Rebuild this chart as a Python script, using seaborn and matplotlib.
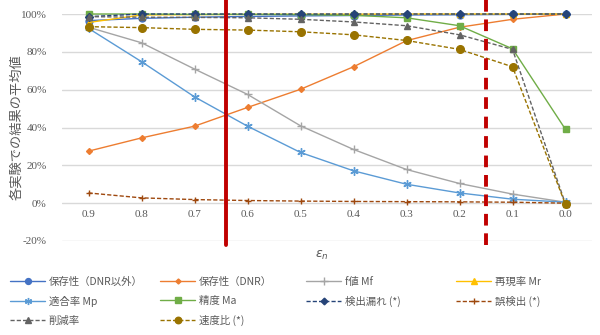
import matplotlib
matplotlib.use("Agg")
import matplotlib.pyplot as plt
import seaborn as sns
import pandas as pd
import numpy as np
from matplotlib.lines import Line2D

# ---- data ----
eps_labels = ["0.9", "0.8", "0.7", "0.6", "0.5", "0.4", "0.3", "0.2", "0.1", "0.0"]
conserv_other = [96.5, 97.7, 98.3, 98.7, 99.0, 99.2, 99.5, 99.6, 99.8, 100.0]
conserv_dnr = [27.5, 34.5, 40.7, 50.6, 60.2, 72.1, 85.9, 93.0, 97.2, 100.0]
f_mf = [93.0, 84.8, 70.9, 57.5, 40.9, 28.4, 17.8, 10.4, 4.8, 0.5]
recall_mr = [95.5, 99.5, 99.7, 99.8, 99.9, 99.9, 100.0, 100.0, 100.0, 100.0]
precision_mp = [92.4, 74.8, 56.2, 40.7, 26.8, 17.1, 10.0, 5.4, 2.1, 0.5]
accuracy_ma = [100.0, 100.0, 99.8, 99.8, 99.7, 99.3, 98.0, 93.8, 81.6, 39.0]
miss_det = [98.6, 100.0, 100.0, 100.0, 100.0, 100.0, 100.0, 100.0, 100.0, 100.0]
false_det = [5.4, 2.8, 1.9, 1.4, 1.1, 0.9, 0.8, 0.7, 0.5, 0.0]
reduction = [98.6, 98.3, 98.2, 98.0, 97.2, 95.8, 93.8, 89.0, 81.3, -0.5]
speed = [93.3, 92.8, 91.9, 91.5, 90.6, 89.0, 86.0, 81.3, 72.1, -0.7]
solid_threshold = 2.6   # category position of solid red line
dashed_threshold = 7.5  # category position of dashed red line

series_names = ["保存性（DNR以外）", "保存性（DNR）", "f値 Mf", "再現率 Mr", "適合率 Mp",
                "精度 Ma", "検出漏れ (*)", "誤検出 (*)", "削減率", "速度比 (*)"]
series_values = [conserv_other, conserv_dnr, f_mf, recall_mr, precision_mp,
                 accuracy_ma, miss_det, false_det, reduction, speed]

styles = [
    dict(color="#4472C4", marker="o", ms=5, ls="-"),
    dict(color="#ED7D31", marker="D", ms=3, ls="-"),
    dict(color="#A5A5A5", marker="+", ms=6, ls="-"),
    dict(color="#FFC000", marker="^", ms=5, ls="-"),
    dict(color="#5B9BD5", marker=(6, 2, 0), ms=6, ls="-"),
    dict(color="#70AD47", marker="s", ms=5, ls="-"),
    dict(color="#264478", marker="D", ms=4, ls=(0, (3, 1.5))),
    dict(color="#9E480E", marker="+", ms=5, ls=(0, (3, 1.5))),
    dict(color="#636363", marker="^", ms=4.5, ls=(0, (3, 1.5))),
    dict(color="#997300", marker="o", ms=5.5, ls=(0, (3, 1.5))),
]

rows = []
for name, vals in zip(series_names, series_values):
    for i, v in enumerate(vals):
        rows.append(dict(series=name, pos=i, value=v))
df = pd.DataFrame(rows)

sns.set_style("white")
plt.rcParams["font.family"] = ["Noto Sans CJK JP", "DejaVu Sans"]

fig = plt.figure(figsize=(6, 3.35), dpi=100)
ax = fig.add_axes([62 / 600, 1 - 241 / 335, 530 / 600, 227 / 335])

handles = []
for k, (name, st) in enumerate(zip(series_names, styles)):
    sub = df[df.series == name]
    sns.lineplot(data=sub, x="pos", y="value", ax=ax, color=st["color"],
                 linestyle=st["ls"], linewidth=1.0, marker=st["marker"],
                 markersize=st["ms"], markeredgecolor=st["color"],
                 markerfacecolor=st["color"], markeredgewidth=1.0,
                 legend=False, clip_on=False, zorder=3 + k)
    handles.append(Line2D([], [], color=st["color"], linestyle=st["ls"], linewidth=1.0,
                          marker=st["marker"], markersize=st["ms"] * 0.85,
                          markeredgecolor=st["color"], markerfacecolor=st["color"]))

ax.set_xlim(-0.5, 9.5)
ax.set_ylim(-20, 100)
ax.set_yticks([-20, 0, 20, 40, 60, 80, 100])
ax.set_yticklabels([f"{t}%" for t in [-20, 0, 20, 40, 60, 80, 100]],
                   family=["Liberation Serif"], fontsize=8, color="#595959")
ax.set_xticks([])
for i, lab in enumerate(eps_labels):
    ax.text(i, -3.5, lab, ha="center", va="top", family=["Liberation Serif"],
            fontsize=8, color="#595959")
ax.tick_params(axis="y", length=0, pad=11)
ax.grid(axis="y", color="#D9D9D9", linewidth=1.0)
ax.set_axisbelow(True)
for s in ax.spines.values():
    s.set_visible(False)
ax.set_xlabel("")
ax.set_ylabel("")
fig.text(17 / 600, 1 - 127 / 335, "各実験での結果の平均値", rotation=90,
         ha="center", va="center", fontsize=9.5, color="#595959")

# threshold lines
ax.axvline(solid_threshold, ymin=-0.018, ymax=1.07, color="#C00000", linewidth=2.8,
           clip_on=False, zorder=20)
ax.axvline(dashed_threshold, ymin=-0.018, ymax=1.07, color="#C00000", linewidth=2.8,
           linestyle=(0, (3.0, 2.0)), clip_on=False, zorder=20)

fig.text(322 / 600, 1 - 255 / 335, r"$\varepsilon_n$", ha="center", va="center",
         fontsize=9, color="#595959")

# legend: 4 columns, row-major
col_x = [10 / 600, 160 / 600, 306 / 600, 456 / 600]
for c in range(4):
    idx = [i for i in range(len(series_names)) if i % 4 == c]
    fig.legend([handles[i] for i in idx], [series_names[i] for i in idx],
               loc="upper left", bbox_to_anchor=(col_x[c], 1 - 277 / 335),
               frameon=False, fontsize=7.5, handlelength=3.4, handletextpad=0.3,
               labelspacing=0.85, borderpad=0, borderaxespad=0,
               labelcolor="#595959")

fig.savefig("out.png", dpi=100)
